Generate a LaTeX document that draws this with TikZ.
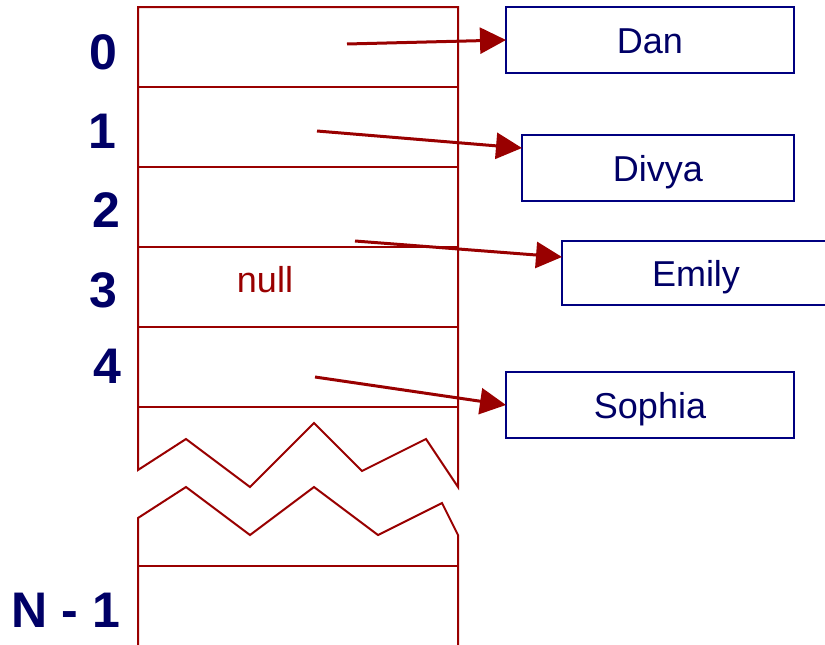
\documentclass[tikz,border=0pt]{standalone}
\usepackage{fontspec}
\setmainfont{Liberation Sans}
\usetikzlibrary{arrows.meta,calc}
\definecolor{arrred}{RGB}{153,0,0}
\definecolor{navytext}{RGB}{0,0,102}
\definecolor{navyline}{RGB}{0,0,128}

\begin{document}
\begin{tikzpicture}[x=1pt,y=-1pt,
  cell/.style={draw=arrred, line width=2pt, line join=miter},
  namebox/.style={draw=navyline, line width=2.5pt, inner sep=0pt, outer sep=0pt,
    text height=26pt, text depth=0pt, font=\fontsize{36}{40}\selectfont, text=navytext},
  idx/.style={anchor=base, inner sep=0pt, font=\fontsize{50}{56}\selectfont\bfseries, text=navytext},
  ptr/.style={draw=arrred, line width=3pt, -{Triangle[length=26pt,width=26pt]}},
]
\useasboundingbox (0,0) rectangle (825,645);
\clip (0,0) rectangle (825,645);

% upper part of the array, ending in a torn edge
\draw[cell] (138,7) -- (458,7) -- (458,487) -- (426,439) -- (362,471) -- (314,423)
  -- (250,487) -- (186,439) -- (138,470) -- cycle;
\foreach \y in {87,167,247,327,407}
  \draw[cell] (138,\y) -- (458,\y);

% lower part of the array, starting with a torn edge
\draw[cell] (138,650) -- (138,518) -- (186,487) -- (250,535) -- (314,487)
  -- (378,535) -- (442,503) -- (458,535) -- (458,650);
\draw[cell] (138,566) -- (458,566);

% indices
\node[idx] (i0) at (103,69) {0};
\node[idx] (i1) at (102,148) {1};
\node[idx] (i2) at (106,227) {2};
\node[idx] (i3) at (103,307) {3};
\node[idx] (i4) at (107,383) {4};
\node[idx] (iN) at (66,627) {N - 1};

% empty slot
\node[anchor=base, inner sep=0pt, text=arrred, font=\fontsize{36}{40}\selectfont] (nul) at (265,292) {null};

% referenced entries
\node[namebox, minimum width=288pt, minimum height=66pt] (dan) at (650,40) {Dan};
\node[namebox, minimum width=272pt, minimum height=66pt] (divya) at (658,168) {Divya};
\node[namebox, minimum width=268pt, minimum height=64pt] (emily) at (696,273) {Emily};
\node[namebox, minimum width=288pt, minimum height=66pt] (sophia) at (650,405) {Sophia};

% pointers from slots to entries
\coordinate (s0) at (347,44);
\coordinate (s1) at (317,131);
\coordinate (s2) at (355,241);
\coordinate (s4) at (315,377);
\draw[ptr] (s0) -- (dan.west);
\draw[ptr] (s1) -- ([yshift=-13pt]divya.north west);
\draw[ptr] (s2) -- ([yshift=-16pt]emily.north west);
\draw[ptr] (s4) -- (sophia.west);
\end{tikzpicture}
\end{document}
